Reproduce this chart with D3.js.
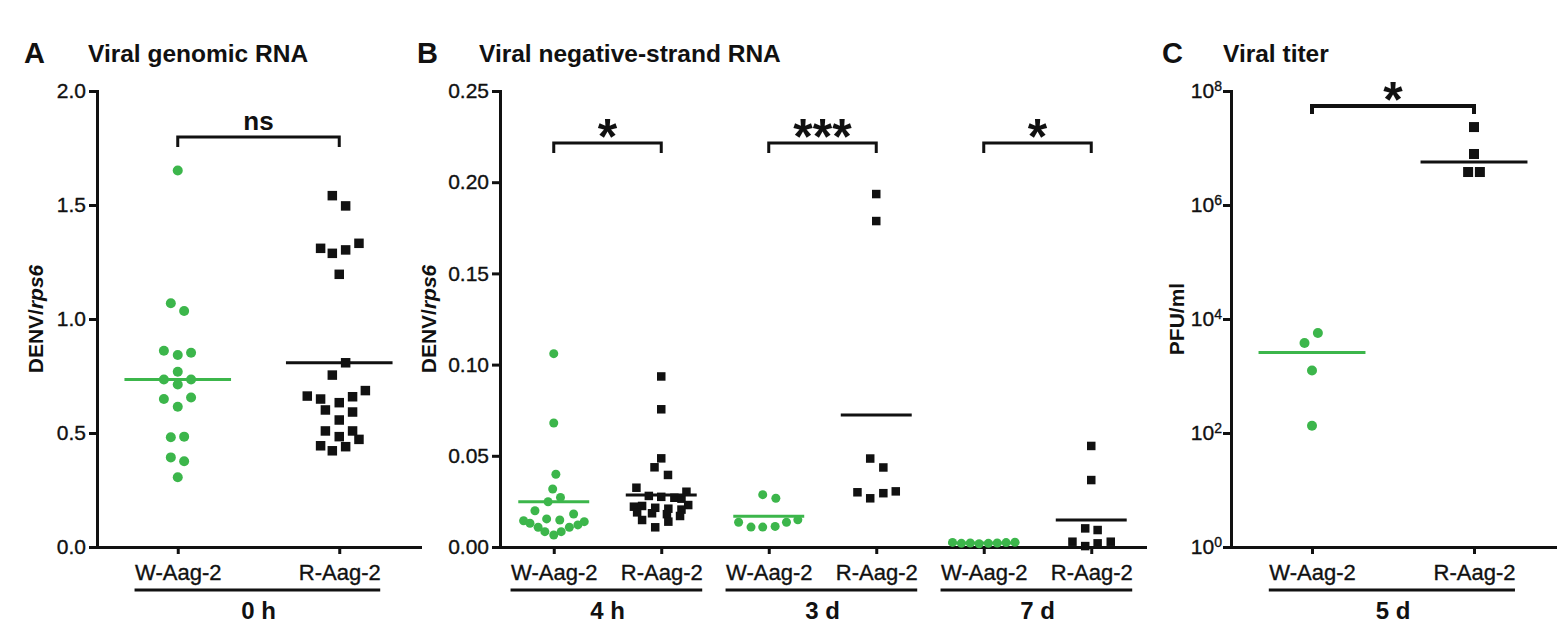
<!DOCTYPE html>
<html>
<head>
<meta charset="utf-8">
<script src="https://cdn.jsdelivr.net/npm/d3@7"></script>
<style>
  body { margin: 0; background: #fff; }
  text { font-family: "Liberation Sans", Arial, sans-serif; }
</style>
</head>
<body>
<div id="chart"></div>
<script>
// ---- data: [value, horizontal spread (-1..1 = half the median bar)] ----
const catsA = ["W-Aag-2", "R-Aag-2"];
const catsB = ["W-Aag-2", "R-Aag-2", "W-Aag-2", "R-Aag-2", "W-Aag-2", "R-Aag-2"];
const catsC = ["W-Aag-2", "R-Aag-2"];
const groupsA = ["0 h"];
const groupsB = ["4 h", "3 d", "7 d"];
const groupsC = ["5 d"];

const genomicW = [[1.651, 0], [1.069, -0.13], [1.035, 0.12], [0.861, -0.26], [0.842, 0], [0.852, 0.25],
  [0.769, 0], [0.735, -0.26], [0.735, 0.25], [0.713, 0], [0.649, -0.26], [0.656, 0.25], [0.615, 0],
  [0.481, -0.13], [0.484, 0.12], [0.393, -0.13], [0.376, 0.12], [0.306, 0]];
const genomicR = [[1.541, -0.13], [1.496, 0.12], [1.310, -0.35], [1.288, -0.13], [1.303, 0.12], [1.332, 0.37],
  [1.196, 0], [0.808, 0.12], [0.754, -0.13], [0.662, -0.6], [0.649, -0.35], [0.633, 0], [0.659, 0.25],
  [0.686, 0.49], [0.601, -0.26], [0.592, 0.25], [0.557, 0], [0.509, -0.26], [0.484, 0], [0.509, 0.25],
  [0.472, 0.37], [0.444, -0.35], [0.422, -0.13], [0.440, 0.12]];

const negW4h = [[0.106, 0], [0.068, 0], [0.0399, 0.06], [0.0318, -0.03], [0.0272, 0.19], [0.0248, -0.16],
  [0.0199, -0.53], [0.0181, 0.56], [0.0154, -0.2], [0.0148, 0.17], [0.0144, -0.85], [0.0139, 0.86],
  [0.0130, -0.67], [0.0121, 0.68], [0.0108, -0.44], [0.0108, 0.44], [0.0084, -0.25], [0.0084, 0.21], [0.0066, 0]];
const negR4h = [[0.0935, 0], [0.0755, 0], [0.0486, 0], [0.0437, -0.19], [0.0395, 0.19], [0.0325, -0.7],
  [0.0303, 0.71], [0.0280, -0.35], [0.0275, 0], [0.0270, 0.37], [0.0265, 0.57], [0.0230, 0.76],
  [0.0221, -0.77], [0.0225, -0.54], [0.0215, -0.17], [0.0210, 0.2], [0.0205, 0.57], [0.0190, -0.68],
  [0.0185, -0.26], [0.0180, 0.16], [0.0170, 0.53], [0.0148, -0.54], [0.0139, 0.2], [0.0108, -0.17]];
const negW3d = [[0.0287, -0.17], [0.0267, 0.2], [0.0136, -0.85], [0.0109, -0.5], [0.0109, -0.17],
  [0.0113, 0.18], [0.0136, 0.5], [0.0149, 0.82]];
const negR3d = [[0.1935, 0], [0.1787, 0], [0.0485, -0.17], [0.0436, 0.2], [0.0300, -0.53], [0.0267, -0.17],
  [0.0295, 0.2], [0.0305, 0.55]];
const negW7d = [[0.0025, -0.88], [0.0020, -0.63], [0.0022, -0.38], [0.0018, -0.13], [0.0020, 0.13],
  [0.0022, 0.38], [0.0024, 0.63], [0.0026, 0.88]];
const negR7d = [[0.0554, 0], [0.0367, 0], [0.0102, -0.17], [0.0093, 0.18], [0.0029, -0.53], [0.0005, -0.17],
  [0.0020, 0.18], [0.0029, 0.55]];

const titerW = [[5680, 0.11], [3790, -0.14], [1253, 0], [134, 0]];
const titerR = [[2.33e7, 0], [7.85e6, 0], [3.79e6, -0.11], [3.79e6, 0.11]];

// median bars
const centerA = [0.735, 0.808];
const centerB = [0.0248, 0.0285, 0.0169, 0.0724, 0.0022, 0.0148];
const centerC = [2594, 5.68e6];

const sigA = ["ns"];
const sigB = ["*", "***", "*"];
const sigC = ["*"];

const yTicksA = [0, 0.5, 1.0, 1.5, 2.0];
const yTicksB = [0, 0.05, 0.10, 0.15, 0.20, 0.25];
const yTicksC = [1, 1e2, 1e4, 1e6, 1e8];

// ---- layout ----
const width = 1562, height = 625;
const plotTop = 91, plotBottom = 547;
const green = "#3cb64b", ink = "#111";

const svg = d3.select("#chart").append("svg")
  .attr("width", width)
  .attr("height", height);

svg.append("rect").attr("width", width).attr("height", height).attr("fill", "#fff");

function drawPanel(p) {
  const g = svg.append("g");
  const y = p.yScale.range([plotBottom, plotTop]);
  const x = d3.scalePoint().domain(d3.range(p.cats.length)).range([p.x0, p.x1]).padding(0.5);
  const half = x.step() * 0.33;
  const spread = d3.scaleLinear().domain([-1, 1]).range([-half, half]);

  // panel letter + title
  g.append("text").attr("x", p.letterX).attr("y", 63)
    .attr("font-size", 29).attr("font-weight", "bold").attr("fill", ink).text(p.letter);
  g.append("text").attr("x", p.titleX).attr("y", 62)
    .attr("font-size", 24.5).attr("font-weight", "bold").attr("fill", ink).text(p.title);

  // y axis
  const ya = g.append("g")
    .attr("transform", `translate(${p.x0},0)`)
    .call(d3.axisLeft(y).tickValues(p.yTicks).tickSize(8).tickSizeOuter(0).tickPadding(p.log ? 1 : 3)
      .tickFormat(p.log ? () => "10" : d3.format(p.fmt)));
  ya.attr("font-size", 21).attr("font-family", null);
  ya.selectAll("path, line").attr("stroke", ink).attr("stroke-width", 3);
  ya.select(".domain").attr("stroke-linecap", "square");
  ya.selectAll("text").attr("fill", ink).attr("stroke", ink).attr("stroke-width", 0.35);
  if (p.log) {
    ya.selectAll(".tick text")
      .append("tspan")
      .attr("dy", "-0.55em")
      .attr("font-size", 14)
      .text(d => Math.round(Math.log10(d)));
  }

  // y label
  const yl = g.append("text")
    .attr("transform", `translate(${p.yLabelX},${(plotTop + plotBottom) / 2}) rotate(-90)`)
    .attr("text-anchor", "middle")
    .attr("dominant-baseline", "central")
    .attr("font-size", 21).attr("font-weight", "bold").attr("fill", ink)
    .text(p.yLabel[0]);
  if (p.yLabel[1]) yl.append("tspan").attr("font-style", "italic").text(p.yLabel[1]);

  // x axis
  const xa = g.append("g")
    .attr("transform", `translate(0,${plotBottom})`)
    .call(d3.axisBottom(x).tickSize(7).tickSizeOuter(0).tickPadding(10).tickFormat(i => p.cats[i]));
  xa.attr("font-size", 22).attr("font-family", null);
  xa.selectAll("path, line").attr("stroke", ink).attr("stroke-width", 3);
  xa.select(".domain").attr("stroke-linecap", "square");
  xa.selectAll("text").attr("fill", ink).attr("stroke", ink).attr("stroke-width", 0.35);

  // group underlines + labels
  const labelW = xa.selectAll(".tick text").nodes().map(n => n.getComputedTextLength());
  p.groups.forEach((name, k) => {
    const a = 2 * k, b = 2 * k + 1;
    const left = x(a) - labelW[a] / 2, right = x(b) + labelW[b] / 2;
    g.append("line")
      .attr("x1", left).attr("x2", right)
      .attr("y1", plotBottom + 43).attr("y2", plotBottom + 43)
      .attr("stroke", ink).attr("stroke-width", 3);
    g.append("text")
      .attr("x", (x(a) + x(b)) / 2).attr("y", 619)
      .attr("text-anchor", "middle")
      .attr("font-size", 24).attr("font-weight", "bold").attr("fill", ink)
      .text(name);

    // significance bracket
    const by = p.bracketY;
    g.append("path")
      .attr("d", `M${x(a)},${by + p.leg}V${by}H${x(b)}V${by + p.leg}`)
      .attr("fill", "none").attr("stroke", ink).attr("stroke-width", p.bracketW);
    g.append("text")
      .attr("x", (x(a) + x(b)) / 2).attr("y", by + p.sigDy)
      .attr("text-anchor", "middle")
      .attr("font-size", p.sig[k] === "ns" ? 26 : 50).attr("font-weight", "bold").attr("fill", ink)
      .text(p.sig[k]);
  });

  // points
  p.series.forEach((s, i) => {
    const isW = i % 2 === 0;
    const pts = g.append("g");
    if (isW) {
      pts.selectAll("circle").data(s).join("circle")
        .attr("cx", d => x(i) + spread(d[1]))
        .attr("cy", d => y(d[0]))
        .attr("r", p.r)
        .attr("fill", green);
    } else {
      pts.selectAll("rect").data(s).join("rect")
        .attr("x", d => x(i) + spread(d[1]) - p.sq / 2)
        .attr("y", d => y(d[0]) - p.sq / 2)
        .attr("width", p.sq).attr("height", p.sq)
        .attr("fill", ink);
    }
  });

  // median bars
  g.selectAll(".median").data(p.centers).join("line")
    .attr("class", "median")
    .attr("x1", (d, i) => x(i) - half)
    .attr("x2", (d, i) => x(i) + half)
    .attr("y1", d => y(d)).attr("y2", d => y(d))
    .attr("stroke", (d, i) => i % 2 === 0 ? green : ink)
    .attr("stroke-width", 3);
}

drawPanel({
  letter: "A", title: "Viral genomic RNA", letterX: 24, titleX: 88,
  x0: 97, x1: 420, yLabelX: 35, yLabel: ["DENV/", "rps6"],
  yScale: d3.scaleLinear().domain([0, 2]), yTicks: yTicksA, fmt: ".1f",
  cats: catsA, groups: groupsA, series: [genomicW, genomicR], centers: centerA,
  sig: sigA, bracketY: 137, leg: 10, bracketW: 3, sigDy: -7,
  r: 5, sq: 9.5
});

drawPanel({
  letter: "B", title: "Viral negative-strand RNA", letterX: 417, titleX: 479,
  x0: 500, x1: 1145, yLabelX: 428, yLabel: ["DENV/", "rps6"],
  yScale: d3.scaleLinear().domain([0, 0.25]), yTicks: yTicksB, fmt: ".2f",
  cats: catsB, groups: groupsB,
  series: [negW4h, negR4h, negW3d, negR3d, negW7d, negR7d], centers: centerB,
  sig: sigB, bracketY: 143, leg: 10, bracketW: 3, sigDy: 11,
  r: 4.5, sq: 8.5
});

drawPanel({
  letter: "C", title: "Viral titer", letterX: 1162, titleX: 1223,
  x0: 1231, x1: 1555, yLabelX: 1176, yLabel: ["PFU/ml"],
  yScale: d3.scaleLog().domain([1, 1e8]), yTicks: yTicksC, log: true,
  cats: catsC, groups: groupsC, series: [titerW, titerR], centers: centerC,
  sig: sigC, bracketY: 106, leg: 8, bracketW: 4, sigDy: 11,
  r: 5, sq: 10
});
</script>
</body>
</html>
